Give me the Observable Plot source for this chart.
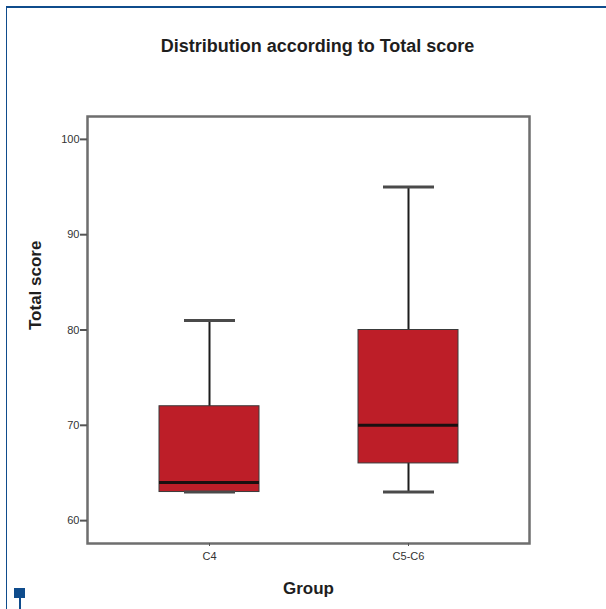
<!DOCTYPE html>
<html>
<head>
<meta charset="utf-8">
<script src="https://cdn.jsdelivr.net/npm/d3@7"></script>
<script src="https://cdn.jsdelivr.net/npm/@observablehq/plot@0.6"></script>
<style>
  html, body { margin: 0; padding: 0; background: #fff; }
  #wrap { position: relative; width: 606px; height: 609px; overflow: hidden; font-family: "Liberation Sans", Arial, sans-serif; }
  #chart { position: absolute; left: 0; top: 0; }
  .deco { position: absolute; background: #0f4c8c; }
</style>
</head>
<body>
<div id="wrap">
  <div id="chart"></div>
  <div class="deco" style="left:6px; top:6px; width:600px; height:1.5px;"></div>
  <div class="deco" style="left:5.5px; top:6px; width:1.5px; height:603px;"></div>
  <div class="deco" style="left:14px; top:588px; width:11px; height:10px;"></div>
  <div class="deco" style="left:19px; top:597px; width:2px; height:12px;"></div>
</div>
<script>
// Data
const groups = ["C4", "C5-C6"];
const lowerWhisker = [63, 63];
const q1 = [63, 66];
const median = [64, 70];
const q3 = [72, 80];
const upperWhisker = [81, 95];
const yTicks = [60, 70, 80, 90, 100];
const title = "Distribution according to Total score";
const xLabel = "Group";
const yLabel = "Total score";

const rows = groups.map((g, i) => ({
  group: g, lo: lowerWhisker[i], q1: q1[i], med: median[i], q3: q3[i], hi: upperWhisker[i]
}));

const chart = Plot.plot({
  width: 606,
  height: 609,
  marginLeft: 87,
  marginRight: 77,
  marginTop: 116,
  marginBottom: 66,
  style: { fontFamily: "Liberation Sans, Arial, sans-serif", background: "transparent" },
  x: { type: "band", domain: groups, paddingInner: 0.5, paddingOuter: 0.357 },
  y: { domain: [57.6, 102.4] },
  marks: [
    Plot.ruleX(rows, { x: "group", y1: "lo", y2: "hi", stroke: "#1c1c1c", strokeWidth: 2 }),
    Plot.barY(rows, { x: "group", y1: "q1", y2: "q3", fill: "#bd1e28", stroke: "#3a3a3a", strokeWidth: 1 }),
    Plot.tickY(rows, { x: "group", y: "med", stroke: "#1a1010", strokeWidth: 3 }),
    Plot.tickY(rows, { x: "group", y: "hi", stroke: "#4a4a4a", strokeWidth: 3, insetLeft: 25, insetRight: 24 }),
    Plot.tickY(rows, { x: "group", y: "lo", stroke: "#4a4a4a", strokeWidth: 3, insetLeft: 25, insetRight: 24 }),
    Plot.frame({ stroke: "#6e6e6e", strokeWidth: 2.5 }),
    Plot.axisY({ ticks: yTicks, tickSize: 7, tickPadding: 1, stroke: "#555", strokeWidth: 2, fontSize: 11, color: "#333", label: null }),
    Plot.axisX({ tickSize: 3, tickPadding: 6, stroke: "#555", fontSize: 11, color: "#333", label: null }),
    Plot.text([yLabel], { frameAnchor: "left", dx: -52, rotate: -90, fontSize: 17, fontWeight: "bold", fill: "#1e1e1e" }),
    Plot.text([xLabel], { frameAnchor: "bottom", lineAnchor: "middle", dy: 45, fontSize: 17, fontWeight: "bold", fill: "#1e1e1e" }),
    Plot.text([title], { frameAnchor: "top", lineAnchor: "middle", dx: 9, dy: -70, fontSize: 18, fontWeight: "bold", fill: "#1e1e1e" })
  ]
});
document.getElementById("chart").appendChild(chart);
</script>
</body>
</html>
